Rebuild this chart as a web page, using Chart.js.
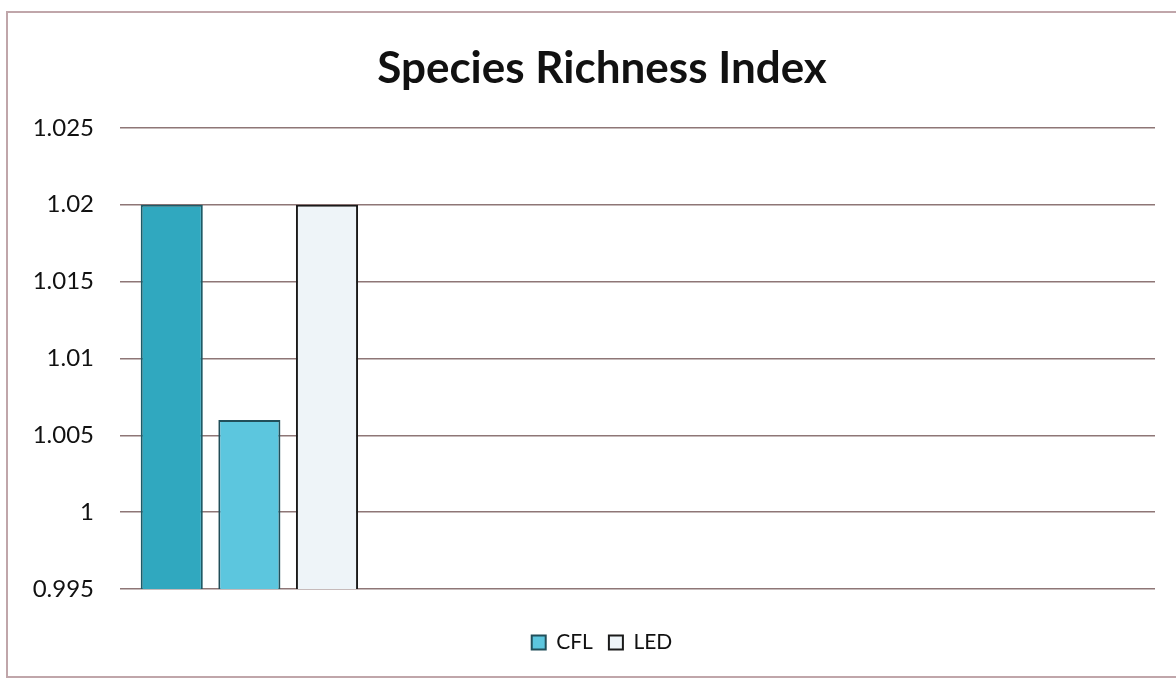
<!DOCTYPE html>
<html>
<head>
<meta charset="utf-8">
<script src="https://cdn.jsdelivr.net/npm/chart.js@4.4.0/dist/chart.umd.min.js"></script>
<style>
	html, body { margin: 0; padding: 0; background: #fff; }
	#frame {
		position: absolute; left: 6px; top: 11px; width: 1190px; height: 667px;
		border: 2px solid #c0a6aa; box-sizing: border-box;
	}
	#wrap { position: absolute; left: 0; top: 0; width: 1176px; height: 682px; }
</style>
</head>
<body>
<div id="frame"></div>
<div id="wrap"><canvas id="chartSpecies"></canvas></div>
<script>
'use strict'

// categories (only the first one has values)
const categories = ['', '', '', ''];
const seriesNames = ['', 'CFL', 'LED'];
const seriesValues = [
	[1.02, null, null, null],
	[1.006, null, null, null],
	[1.02, null, null, null],
];
const yTicks = { min: 0.995, max: 1.025, step: 0.005 };

const colors = {
	fills: ['#30a8bf', '#5cc6de', '#eef4f8'],
	borders: ['#1d5a66', '#214f5a', '#1a1a1a'],
	grid: '#8e7676',
	text: '#111111',
};

const font = "Lato, 'Open Sans', sans-serif";

let ctx = document.getElementById('chartSpecies');

let datasets = seriesNames.map((name, i) => ({
	label: name,
	data: seriesValues[i],
	backgroundColor: colors.fills[i],
	borderColor: colors.borders[i],
	borderWidth: 2,
	borderSkipped: 'bottom',
	categoryPercentage: 0.9,
	barPercentage: 0.8,
	yAxisID: 'y',
}));

let chartSpecies = new Chart(ctx, {
	type: 'bar',
	data: {
		labels: categories,
		datasets: datasets,
	},
	options: {
		responsive: true,
		maintainAspectRatio: false,
		animation: false,
		layout: {
			padding: { left: 28, right: 0, top: 0, bottom: 19 },
		},
		plugins: {
			title: {
				display: true,
				text: 'Species Richness Index',
				color: colors.text,
				font: { family: font, size: 44, weight: 'bold' },
				padding: { top: 42, bottom: 33 },
			},
			legend: {
				position: 'bottom',
				labels: {
					color: colors.text,
					font: { family: font, size: 21 },
					boxWidth: 14,
					boxHeight: 14,
					padding: 16,
					filter: (item) => item.text !== '',
				},
			},
			tooltip: { enabled: false },
		},
		scales: {
			x: {
				afterFit: (scale) => { scale.height = 27; },
				ticks: { display: false },
				grid: { display: false },
				border: { display: false },
			},
			y: {
				min: yTicks.min,
				max: yTicks.max,
				afterFit: (scale) => { scale.width = 92; },
				ticks: {
					stepSize: yTicks.step,
					color: colors.text,
					padding: 26,
					font: { family: font, size: 24 },
					callback: (v) => String(+v.toFixed(3)),
				},
				grid: {
					color: colors.grid,
					lineWidth: 1.5,
					drawTicks: false,
				},
				border: { display: false },
			},
			// empty right gutter so the plot stops short of the edge
			yRight: {
				position: 'right',
				afterFit: (scale) => { scale.width = 21; },
				ticks: { display: false },
				grid: { display: false, drawOnChartArea: false },
				border: { display: false },
			},
		},
	},
});
</script>
</body>
</html>
